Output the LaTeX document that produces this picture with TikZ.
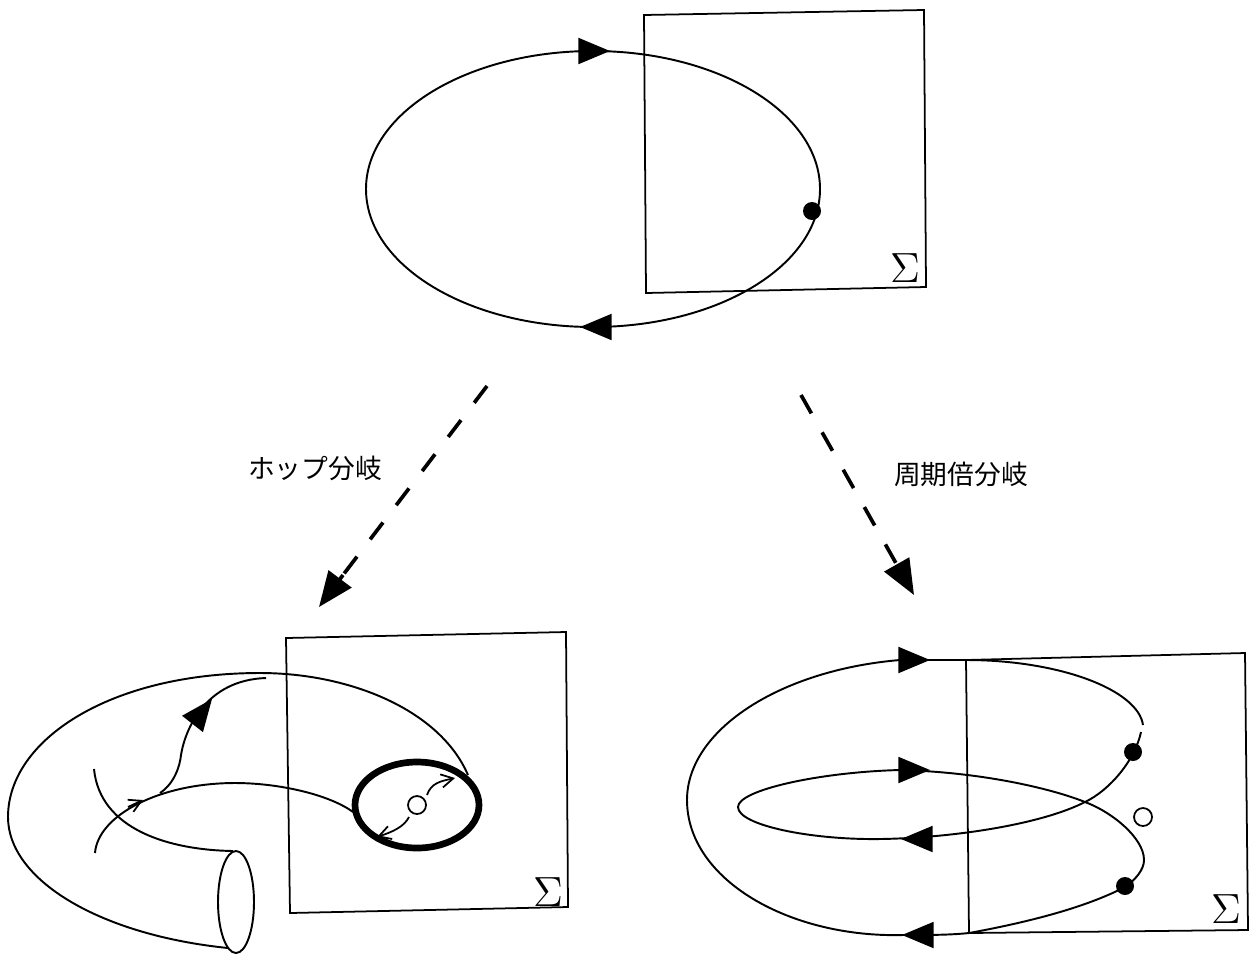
\documentclass[tikz,border=0pt]{standalone}
\usepackage{fontspec}
\newfontfamily\jpfont{Noto Sans CJK JP}
\usetikzlibrary{arrows.meta}
\tikzset{
  orbit/.style={line width=0.55pt, line join=round},
  frame/.style={line width=0.5pt, line join=miter},
  bigtip/.style={-{Triangle[length=9pt, width=7.4pt]}, line width=0.55pt},
  branch/.style={line width=1.05pt, dash pattern=on 6pt off 6.2pt},
  branchtip/.style={-{Triangle[length=10pt, width=8pt]}, line width=1.05pt},
  smalltip/.style={-{Straight Barb[length=3.4pt, width=3.8pt]}, line width=0.5pt},
  fixedpt/.style={circle, fill=black, inner sep=0pt, minimum size=0.18cm},
  openpt/.style={circle, draw, line width=0.5pt, fill=white, inner sep=0pt, minimum size=0.18cm},
  sigmalabel/.style={inner sep=0pt, font=\fontsize{13}{13}\selectfont},
  jplabel/.style={inner sep=0pt, font=\jpfont\fontsize{7.6}{8}\selectfont}
}
\begin{document}
\begin{tikzpicture}[x=0.01cm, y=-0.01cm]
  \useasboundingbox (0,0) rectangle (1249,954);

  \draw[frame] (644,15) -- (924,10) -- (926,287) -- (646,293) -- cycle;
  \draw[orbit] (593,189) ellipse (227 and 138);
  \draw[bigtip] (578,51) -- (610,51);
  \draw[bigtip] (608,327) -- (580,327);
  \node[fixedpt] (topfix) at (812,211) {};
  \node[sigmalabel] (topsigma) at (905,268) {$\Sigma$};

  \coordinate (hopfstart) at (487,386);
  \coordinate (hopfend) at (319,607);
  \coordinate (hopfbase) at (343,575);
  \coordinate (pdstart) at (801,395);
  \coordinate (pdend) at (914,595);
  \coordinate (pdbase) at (897,565);
  \draw[branch] (hopfstart) -- (hopfbase);
  \draw[branchtip] (hopfbase) -- (hopfend);
  \draw[branch] (pdstart) -- (pdbase);
  \draw[branchtip] (pdbase) -- (pdend);
  \node[jplabel] (hopflabel) at (315,468) {ホップ分岐};
  \node[jplabel] (pdlabel) at (961,474) {周期倍分岐};

  \draw[frame] (286,638) -- (566,632) -- (568,907) -- (290,913) -- cycle;
  \draw[orbit] (228,948) .. controls (100,935) and (8,880) .. (8,817)
    .. controls (8,740) and (110,673) .. (260,673)
    .. controls (350,673) and (440,710) .. (468,775);
  \draw[orbit] (236,902) ellipse (18 and 51);
  \draw[orbit] (233,851) .. controls (170,850) and (100,830) .. (94,769);
  \draw[orbit] (95,853) .. controls (98,815) and (160,783) .. (235,783)
    .. controls (280,783) and (330,795) .. (353,812);
  \draw[orbit] (160,793) .. controls (175,783) and (180,765) .. (181,755)
    .. controls (185,730) and (205,680) .. (266,678);
  \draw[bigtip] (194,722) -- (212,699);
  \draw[smalltip] (128,807) -- (143,800);
  \draw[line width=1.9pt] (417,805) ellipse (62 and 43);
  \node[openpt] (hopfcentre) at (417,805) {};
  \node[sigmalabel] (hopfsigma) at (548,892) {$\Sigma$};
  \draw[smalltip] (427,795) .. controls (431,783) and (441,781) .. (455,778);
  \draw[smalltip] (409,817) .. controls (404,827) and (392,832) .. (377,837);

  \draw[frame] (966,660) -- (1245,653) -- (1248,930) -- (969,933) -- cycle;
  \draw[orbit] (1143,725) .. controls (1138,690) and (1060,660) .. (966,660) -- (900,660)
    .. controls (780,670) and (687,730) .. (687,800)
    .. controls (687,880) and (790,938) .. (903,935)
    .. controls (930,935) and (950,935) .. (969,933)
    .. controls (1040,920) and (1090,905) .. (1125,887)
    .. controls (1135,880) and (1144,870) .. (1144,860)
    .. controls (1144,838) and (1112,812) .. (1085,802)
    .. controls (1050,788) and (980,772) .. (900,770)
    .. controls (820,772) and (738,790) .. (738,807)
    .. controls (738,825) and (810,840) .. (880,839)
    .. controls (950,838) and (1040,825) .. (1085,802)
    .. controls (1110,790) and (1135,760) .. (1141,732);
  \draw[bigtip] (898,660) -- (930,660);
  \draw[bigtip] (899,770) -- (930,770);
  \draw[bigtip] (930,839) -- (901,839);
  \draw[bigtip] (931,935) -- (902,935);
  \node[fixedpt] (pdfixa) at (1133,752) {};
  \node[fixedpt] (pdfixb) at (1125,886) {};
  \node[openpt] (pdcentre) at (1143,817) {};
  \node[sigmalabel] (pdsigma) at (1226,909) {$\Sigma$};
\end{tikzpicture}
\end{document}
